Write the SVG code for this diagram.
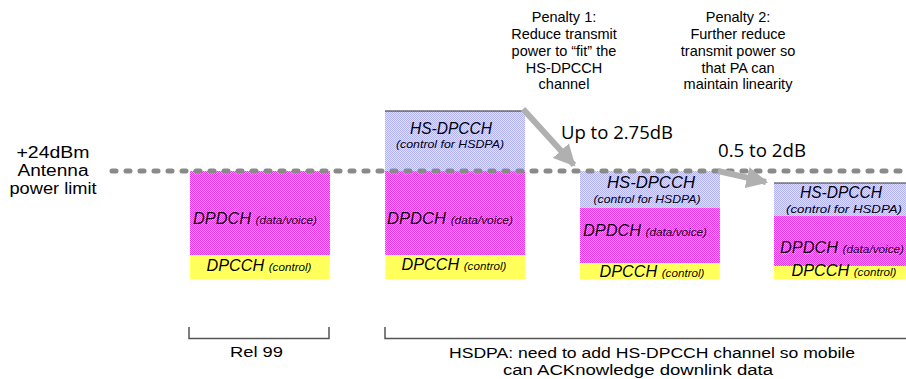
<svg xmlns="http://www.w3.org/2000/svg" width="906" height="379" viewBox="0 0 906 379">
  <defs>
    <pattern id="pMag" width="2" height="2" patternUnits="userSpaceOnUse">
      <rect width="2" height="2" fill="#ffa0ff"/>
      <rect width="1" height="1" fill="#ee33ee"/>
      <rect x="1" y="1" width="1" height="1" fill="#ee33ee"/>
    </pattern>
    <pattern id="pBlue" width="2" height="2" patternUnits="userSpaceOnUse">
      <rect width="2" height="2" fill="#e2e2ff"/>
      <rect width="1" height="1" fill="#b2b2f6"/>
      <rect x="1" y="1" width="1" height="1" fill="#b2b2f6"/>
    </pattern>
    <pattern id="pYel" width="2" height="2" patternUnits="userSpaceOnUse">
      <rect width="2" height="2" fill="#ffffc0"/>
      <rect width="1" height="1" fill="#ffff55"/>
      <rect x="1" y="1" width="1" height="1" fill="#ffff55"/>
    </pattern>
    <marker id="head" viewBox="0 0 10 10" refX="9" refY="5" markerWidth="3.6" markerHeight="3.6" orient="auto" markerUnits="strokeWidth">
      <path d="M0,0 L10,5 L0,10 Z" fill="#b0b0b0"/>
    </marker>
  </defs>
  <style>
    .lbl { font-family: "Liberation Sans", Arial, sans-serif; fill: #000; }
    .ch { font-family: "Liberation Sans", Arial, sans-serif; font-style: italic; fill: #000; text-anchor: middle; }
    .big { font-size: 16px; }
    .sm { font-size: 11.5px; }
    .db { font-family: "Open Sans", "Liberation Sans", sans-serif; font-size: 18px; fill: #000; }
    .mag { fill: url(#pMag); }
    .blu { fill: url(#pBlue); }
    .yel { fill: url(#pYel); }
    .brk { fill: none; stroke: #555; stroke-width: 1.5; }
    .arr { stroke: #b0b0b0; stroke-width: 6; fill: none; marker-end: url(#head); }
  </style>

  <!-- side label for the power limit -->
  <g id="limit-label" class="lbl" font-size="16" text-anchor="middle">
    <text x="53" y="158" textLength="73" lengthAdjust="spacingAndGlyphs">+24dBm</text>
    <text x="53" y="176" textLength="71" lengthAdjust="spacingAndGlyphs">Antenna</text>
    <text x="53" y="194" textLength="87" lengthAdjust="spacingAndGlyphs">power limit</text>
  </g>

  <!-- Rel 99 stack -->
  <g id="rel99">
    <rect class="mag" x="190" y="171" width="140" height="84"/>
    <rect class="yel" x="190" y="255" width="140" height="24"/>
    <text class="ch" x="255" y="224" textLength="124" lengthAdjust="spacingAndGlyphs"><tspan class="big">DPDCH </tspan><tspan class="sm">(data/voice)</tspan></text>
    <text class="ch" x="259" y="271" textLength="105" lengthAdjust="spacingAndGlyphs"><tspan class="big">DPCCH </tspan><tspan class="sm">(control)</tspan></text>
  </g>

  <!-- HSDPA stack before reduction -->
  <g id="hsdpa-full">
    <rect class="blu" x="385" y="111" width="140" height="60"/>
    <line x1="385" y1="111" x2="525" y2="111" stroke="#223" stroke-width="1"/>
    <rect class="mag" x="385" y="171" width="140" height="84"/>
    <rect class="yel" x="385" y="255" width="140" height="24"/>
    <text class="ch big" x="451" y="134" textLength="82" lengthAdjust="spacingAndGlyphs">HS-DPCCH</text>
    <text class="ch sm" x="450" y="148" textLength="108" lengthAdjust="spacingAndGlyphs">(control for HSDPA)</text>
    <text class="ch" x="450" y="224" textLength="126" lengthAdjust="spacingAndGlyphs"><tspan class="big">DPDCH </tspan><tspan class="sm">(data/voice)</tspan></text>
    <text class="ch" x="454" y="270" textLength="105" lengthAdjust="spacingAndGlyphs"><tspan class="big">DPCCH </tspan><tspan class="sm">(control)</tspan></text>
  </g>

  <!-- HSDPA stack after penalty 1 -->
  <g id="hsdpa-fit">
    <rect class="blu" x="580" y="171" width="140" height="37"/>
    <rect class="mag" x="580" y="208" width="140" height="55"/>
    <rect class="yel" x="580" y="263" width="140" height="16"/>
    <text class="ch big" x="651" y="188" textLength="88" lengthAdjust="spacingAndGlyphs">HS-DPCCH</text>
    <text class="ch sm" x="647" y="203" textLength="107" lengthAdjust="spacingAndGlyphs">(control for HSDPA)</text>
    <text class="ch" x="645" y="236" textLength="124" lengthAdjust="spacingAndGlyphs"><tspan class="big">DPDCH </tspan><tspan class="sm">(data/voice)</tspan></text>
    <text class="ch" x="652" y="277" textLength="105" lengthAdjust="spacingAndGlyphs"><tspan class="big">DPCCH </tspan><tspan class="sm">(control)</tspan></text>
  </g>

  <!-- HSDPA stack after penalty 2 -->
  <g id="hsdpa-linear">
    <rect class="blu" x="774" y="183" width="132" height="33"/>
    <line x1="774" y1="183" x2="906" y2="183" stroke="#334" stroke-width="1"/>
    <rect class="mag" x="774" y="216" width="132" height="50"/>
    <rect class="yel" x="774" y="266" width="132" height="13"/>
    <text class="ch big" x="841" y="198" textLength="82" lengthAdjust="spacingAndGlyphs">HS-DPCCH</text>
    <text class="ch sm" x="844" y="213" textLength="116" lengthAdjust="spacingAndGlyphs">(control for HSDPA)</text>
    <text class="ch" x="842" y="253" textLength="124" lengthAdjust="spacingAndGlyphs"><tspan class="big">DPDCH </tspan><tspan class="sm">(data/voice)</tspan></text>
    <text class="ch" x="844" y="276" textLength="105" lengthAdjust="spacingAndGlyphs"><tspan class="big">DPCCH </tspan><tspan class="sm">(control)</tspan></text>
  </g>

  <!-- penalty notes -->
  <g id="penalty1" class="lbl" font-size="14.5" text-anchor="middle">
    <text x="564" y="22">Penalty 1:</text>
    <text x="564" y="39">Reduce transmit</text>
    <text x="564" y="56">power to “fit” the</text>
    <text x="564" y="73">HS-DPCCH</text>
    <text x="564" y="89">channel</text>
  </g>
  <g id="penalty2" class="lbl" font-size="14.5" text-anchor="middle">
    <text x="738" y="22">Penalty 2:</text>
    <text x="738" y="39">Further reduce</text>
    <text x="738" y="56">transmit power so</text>
    <text x="738" y="73">that PA can</text>
    <text x="738" y="89">maintain linearity</text>
  </g>

  <!-- connectors: power limit line and reduction arrows -->
  <g id="connectors">
    <line x1="112" y1="171" x2="906" y2="171" stroke="#8a8a8a" stroke-width="5" stroke-linecap="round" stroke-dasharray="4 10"/>
    <line class="arr" x1="523" y1="109" x2="574" y2="165"/>
    <line class="arr" x1="718" y1="171" x2="766" y2="182"/>
    <polyline class="brk" points="189,327 189,338.5 329,338.5 329,327"/>
    <polyline class="brk" points="385,327 385,338.5 906,338.5"/>
  </g>

  <!-- reduction amounts -->
  <g id="amounts">
    <text class="db" x="561" y="139" textLength="112" lengthAdjust="spacingAndGlyphs">Up to 2.75dB</text>
    <text class="db" x="718" y="157" textLength="88" lengthAdjust="spacingAndGlyphs">0.5 to 2dB</text>
  </g>

  <!-- bracket captions -->
  <g id="captions" class="lbl" font-size="15.5">
    <text x="230" y="357" textLength="53" lengthAdjust="spacingAndGlyphs">Rel 99</text>
    <text x="449" y="358" textLength="406" lengthAdjust="spacingAndGlyphs">HSDPA:  need to add HS-DPCCH channel so mobile</text>
    <text x="503" y="375" textLength="270" lengthAdjust="spacingAndGlyphs">can ACKnowledge downlink data</text>
  </g>
</svg>
